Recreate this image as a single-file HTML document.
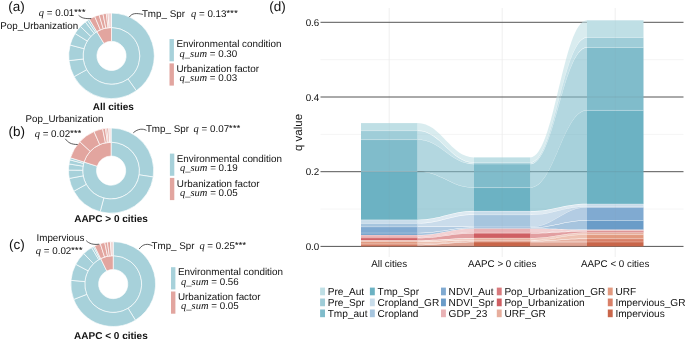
<!DOCTYPE html><html><head><meta charset="utf-8"><style>html,body{margin:0;padding:0;background:#fff;width:685px;height:339px;overflow:hidden;position:relative}</style></head><body><svg width="685" height="339" viewBox="0 0 685 339" style="position:absolute;left:0;top:0;will-change:transform;filter:blur(0.25px)" text-rendering="geometricPrecision">
<rect width="685" height="339" fill="#fff"/>
<path d="M111.50,27.50A28.4,28.4 0 1 1 96.79,31.61L103.94,43.41A14.6,14.6 0 1 0 111.50,41.30Z" fill="#a7d1da" stroke="#fff" stroke-width="0.65"/>
<path d="M96.79,31.61A28.4,28.4 0 0 1 111.50,27.50L111.50,41.30A14.6,14.6 0 0 0 103.94,43.41Z" fill="#e2a59f" stroke="#fff" stroke-width="0.65"/>
<path d="M111.50,13.10A42.8,42.8 0 0 1 136.35,90.74L127.99,79.02A28.4,28.4 0 0 0 111.50,27.50Z" fill="#a7d1da" stroke="#fff" stroke-width="0.65"/>
<path d="M136.35,90.74A42.8,42.8 0 0 1 74.07,76.65L86.66,69.67A28.4,28.4 0 0 0 127.99,79.02Z" fill="#a7d1da" stroke="#fff" stroke-width="0.65"/>
<path d="M74.07,76.65A42.8,42.8 0 0 1 68.96,60.60L83.27,59.02A28.4,28.4 0 0 0 86.66,69.67Z" fill="#a7d1da" stroke="#fff" stroke-width="0.65"/>
<path d="M68.96,60.60A42.8,42.8 0 0 1 70.10,45.04L84.03,48.69A28.4,28.4 0 0 0 83.27,59.02Z" fill="#a7d1da" stroke="#fff" stroke-width="0.65"/>
<path d="M70.10,45.04A42.8,42.8 0 0 1 75.05,33.47L87.31,41.02A28.4,28.4 0 0 0 84.03,48.69Z" fill="#a7d1da" stroke="#fff" stroke-width="0.65"/>
<path d="M75.05,33.47A42.8,42.8 0 0 1 80.40,26.49L90.87,36.39A28.4,28.4 0 0 0 87.31,41.02Z" fill="#a7d1da" stroke="#fff" stroke-width="0.65"/>
<path d="M80.40,26.49A42.8,42.8 0 0 1 85.39,21.99L94.17,33.40A28.4,28.4 0 0 0 90.87,36.39Z" fill="#a7d1da" stroke="#fff" stroke-width="0.65"/>
<path d="M85.39,21.99A42.8,42.8 0 0 1 87.63,20.38L95.66,32.33A28.4,28.4 0 0 0 94.17,33.40Z" fill="#a7d1da" stroke="#fff" stroke-width="0.65"/>
<path d="M87.63,20.38A42.8,42.8 0 0 1 89.33,19.29L96.79,31.61A28.4,28.4 0 0 0 95.66,32.33Z" fill="#a7d1da" stroke="#fff" stroke-width="0.65"/>
<path d="M89.33,19.29A42.8,42.8 0 0 1 94.71,16.53L100.36,29.78A28.4,28.4 0 0 0 96.79,31.61Z" fill="#e2a59f" stroke="#fff" stroke-width="0.65"/>
<path d="M94.71,16.53A42.8,42.8 0 0 1 99.13,14.93L103.29,28.71A28.4,28.4 0 0 0 100.36,29.78Z" fill="#e2a59f" stroke="#fff" stroke-width="0.65"/>
<path d="M99.13,14.93A42.8,42.8 0 0 1 102.97,13.96L105.84,28.07A28.4,28.4 0 0 0 103.29,28.71Z" fill="#e2a59f" stroke="#fff" stroke-width="0.65"/>
<path d="M102.97,13.96A42.8,42.8 0 0 1 106.28,13.42L108.04,27.71A28.4,28.4 0 0 0 105.84,28.07Z" fill="#e2a59f" stroke="#fff" stroke-width="0.65"/>
<path d="M106.28,13.42A42.8,42.8 0 0 1 107.92,13.25L109.12,27.60A28.4,28.4 0 0 0 108.04,27.71Z" fill="#e2a59f" stroke="#fff" stroke-width="0.65"/>
<path d="M107.92,13.25A42.8,42.8 0 0 1 111.50,13.10L111.50,27.50A28.4,28.4 0 0 0 109.12,27.60Z" fill="#f0d6d6" stroke="#fff" stroke-width="0.65"/>
<path d="M111.10,142.20A28.4,28.4 0 1 1 84.01,162.06L97.18,166.21A14.6,14.6 0 1 0 111.10,156.00Z" fill="#a7d1da" stroke="#fff" stroke-width="0.65"/>
<path d="M84.01,162.06A28.4,28.4 0 0 1 111.10,142.20L111.10,156.00A14.6,14.6 0 0 0 97.18,166.21Z" fill="#e2a59f" stroke="#fff" stroke-width="0.65"/>
<path d="M111.10,128.00A42.6,42.6 0 0 1 153.22,176.97L139.18,174.85A28.4,28.4 0 0 0 111.10,142.20Z" fill="#a7d1da" stroke="#fff" stroke-width="0.65"/>
<path d="M153.22,176.97A42.6,42.6 0 0 1 100.15,211.77L103.80,198.05A28.4,28.4 0 0 0 139.18,174.85Z" fill="#a7d1da" stroke="#fff" stroke-width="0.65"/>
<path d="M100.15,211.77A42.6,42.6 0 0 1 73.81,191.19L86.24,184.33A28.4,28.4 0 0 0 103.80,198.05Z" fill="#a7d1da" stroke="#fff" stroke-width="0.65"/>
<path d="M73.81,191.19A42.6,42.6 0 0 1 69.23,178.44L83.18,175.82A28.4,28.4 0 0 0 86.24,184.33Z" fill="#a7d1da" stroke="#fff" stroke-width="0.65"/>
<path d="M69.23,178.44A42.6,42.6 0 0 1 68.50,170.08L82.70,170.25A28.4,28.4 0 0 0 83.18,175.82Z" fill="#a7d1da" stroke="#fff" stroke-width="0.65"/>
<path d="M68.50,170.08A42.6,42.6 0 0 1 69.02,163.94L83.05,166.16A28.4,28.4 0 0 0 82.70,170.25Z" fill="#a7d1da" stroke="#fff" stroke-width="0.65"/>
<path d="M69.02,163.94A42.6,42.6 0 0 1 69.88,159.86L83.62,163.44A28.4,28.4 0 0 0 83.05,166.16Z" fill="#a7d1da" stroke="#fff" stroke-width="0.65"/>
<path d="M69.88,159.86A42.6,42.6 0 0 1 70.47,157.79L84.01,162.06A28.4,28.4 0 0 0 83.62,163.44Z" fill="#a7d1da" stroke="#fff" stroke-width="0.65"/>
<path d="M70.47,157.79A42.6,42.6 0 0 1 79.79,141.71L90.23,151.34A28.4,28.4 0 0 0 84.01,162.06Z" fill="#e2a59f" stroke="#fff" stroke-width="0.65"/>
<path d="M79.79,141.71A42.6,42.6 0 0 1 94.05,131.56L99.73,144.58A28.4,28.4 0 0 0 90.23,151.34Z" fill="#e2a59f" stroke="#fff" stroke-width="0.65"/>
<path d="M94.05,131.56A42.6,42.6 0 0 1 102.61,128.86L105.44,142.77A28.4,28.4 0 0 0 99.73,144.58Z" fill="#e2a59f" stroke="#fff" stroke-width="0.65"/>
<path d="M102.61,128.86A42.6,42.6 0 0 1 105.47,128.37L107.34,142.45A28.4,28.4 0 0 0 105.44,142.77Z" fill="#e2a59f" stroke="#fff" stroke-width="0.65"/>
<path d="M105.47,128.37A42.6,42.6 0 0 1 106.80,128.22L108.23,142.35A28.4,28.4 0 0 0 107.34,142.45Z" fill="#e2a59f" stroke="#fff" stroke-width="0.65"/>
<path d="M106.80,128.22A42.6,42.6 0 0 1 108.72,128.07L109.51,142.24A28.4,28.4 0 0 0 108.23,142.35Z" fill="#e2a59f" stroke="#fff" stroke-width="0.65"/>
<path d="M108.72,128.07A42.6,42.6 0 0 1 111.10,128.00L111.10,142.20A28.4,28.4 0 0 0 109.51,142.24Z" fill="#f4e2e2" stroke="#fff" stroke-width="0.65"/>
<path d="M113.20,255.70A28.4,28.4 0 1 1 100.71,258.60L106.78,270.99A14.6,14.6 0 1 0 113.20,269.50Z" fill="#a7d1da" stroke="#fff" stroke-width="0.65"/>
<path d="M100.71,258.60A28.4,28.4 0 0 1 113.20,255.70L113.20,269.50A14.6,14.6 0 0 0 106.78,270.99Z" fill="#e2a59f" stroke="#fff" stroke-width="0.65"/>
<path d="M113.20,241.70A42.4,42.4 0 0 1 135.42,320.21L128.08,308.29A28.4,28.4 0 0 0 113.20,255.70Z" fill="#a7d1da" stroke="#fff" stroke-width="0.65"/>
<path d="M135.42,320.21A42.4,42.4 0 0 1 73.67,299.43L86.72,294.37A28.4,28.4 0 0 0 128.08,308.29Z" fill="#a7d1da" stroke="#fff" stroke-width="0.65"/>
<path d="M73.67,299.43A42.4,42.4 0 0 1 70.97,280.33L84.91,281.58A28.4,28.4 0 0 0 86.72,294.37Z" fill="#a7d1da" stroke="#fff" stroke-width="0.65"/>
<path d="M70.97,280.33A42.4,42.4 0 0 1 75.73,264.26L88.10,270.81A28.4,28.4 0 0 0 84.91,281.58Z" fill="#a7d1da" stroke="#fff" stroke-width="0.65"/>
<path d="M75.73,264.26A42.4,42.4 0 0 1 83.80,253.55L93.51,263.64A28.4,28.4 0 0 0 88.10,270.81Z" fill="#a7d1da" stroke="#fff" stroke-width="0.65"/>
<path d="M83.80,253.55A42.4,42.4 0 0 1 91.62,247.60L98.74,259.65A28.4,28.4 0 0 0 93.51,263.64Z" fill="#a7d1da" stroke="#fff" stroke-width="0.65"/>
<path d="M91.62,247.60A42.4,42.4 0 0 1 93.36,246.63L99.91,259.00A28.4,28.4 0 0 0 98.74,259.65Z" fill="#a7d1da" stroke="#fff" stroke-width="0.65"/>
<path d="M93.36,246.63A42.4,42.4 0 0 1 94.55,246.02L100.71,258.60A28.4,28.4 0 0 0 99.91,259.00Z" fill="#a7d1da" stroke="#fff" stroke-width="0.65"/>
<path d="M94.55,246.02A42.4,42.4 0 0 1 100.31,243.71L104.57,257.04A28.4,28.4 0 0 0 100.71,258.60Z" fill="#e2a59f" stroke="#fff" stroke-width="0.65"/>
<path d="M100.31,243.71A42.4,42.4 0 0 1 104.75,242.55L107.54,256.27A28.4,28.4 0 0 0 104.57,257.04Z" fill="#e2a59f" stroke="#fff" stroke-width="0.65"/>
<path d="M104.75,242.55A42.4,42.4 0 0 1 107.45,242.09L109.35,255.96A28.4,28.4 0 0 0 107.54,256.27Z" fill="#e2a59f" stroke="#fff" stroke-width="0.65"/>
<path d="M107.45,242.09A42.4,42.4 0 0 1 110.39,241.79L111.32,255.76A28.4,28.4 0 0 0 109.35,255.96Z" fill="#e2a59f" stroke="#fff" stroke-width="0.65"/>
<path d="M110.39,241.79A42.4,42.4 0 0 1 113.20,241.70L113.20,255.70A28.4,28.4 0 0 0 111.32,255.76Z" fill="#f0d6d4" stroke="#fff" stroke-width="0.65"/>
<text x="8.3" y="11.0" font-family='"Liberation Sans", sans-serif' font-size="13.5" font-weight="normal" font-style="normal" text-anchor="start" fill="#111" >(a)</text>
<text x="0.3" y="28.7" font-family='"Liberation Sans", sans-serif' font-size="9.8" font-weight="normal" font-style="normal" text-anchor="start" fill="#111" >Pop_Urbanization</text>
<text x="38.8" y="15.5" font-family='"Liberation Sans", sans-serif' font-size="9.8" fill="#111"><tspan font-family='"Liberation Serif", serif' font-style="italic" font-size="10.5">q</tspan> = 0.01<tspan font-size="8.8" dy="-0.9" letter-spacing="0.4" stroke="#111" stroke-width="0.1">***</tspan></text>
<text x="141.9" y="16.6" font-family='"Liberation Sans", sans-serif' font-size="9.8" font-weight="normal" font-style="normal" text-anchor="start" fill="#111" >Tmp_ Spr</text>
<text x="191" y="16.6" font-family='"Liberation Sans", sans-serif' font-size="9.8" fill="#111"><tspan font-family='"Liberation Serif", serif' font-style="italic" font-size="10.5">q</tspan> = 0.13<tspan font-size="8.8" dy="-0.9" letter-spacing="0.4" stroke="#111" stroke-width="0.1">***</tspan></text>
<text x="113.3" y="109.6" font-family='"Liberation Sans", sans-serif' font-size="10" font-weight="bold" font-style="normal" text-anchor="middle" fill="#111" >All cities</text>
<text x="8.5" y="135.8" font-family='"Liberation Sans", sans-serif' font-size="13.5" font-weight="normal" font-style="normal" text-anchor="start" fill="#111" >(b)</text>
<text x="25.5" y="121.7" font-family='"Liberation Sans", sans-serif' font-size="9.8" font-weight="normal" font-style="normal" text-anchor="start" fill="#111" >Pop_Urbanization</text>
<text x="34.7" y="137.3" font-family='"Liberation Sans", sans-serif' font-size="9.8" fill="#111"><tspan font-family='"Liberation Serif", serif' font-style="italic" font-size="10.5">q</tspan> = 0.02<tspan font-size="8.8" dy="-0.9" letter-spacing="0.4" stroke="#111" stroke-width="0.1">***</tspan></text>
<text x="145.9" y="132.2" font-family='"Liberation Sans", sans-serif' font-size="9.8" font-weight="normal" font-style="normal" text-anchor="start" fill="#111" >Tmp_ Spr</text>
<text x="193.6" y="132.2" font-family='"Liberation Sans", sans-serif' font-size="9.8" fill="#111"><tspan font-family='"Liberation Serif", serif' font-style="italic" font-size="10.5">q</tspan> = 0.07<tspan font-size="8.8" dy="-0.9" letter-spacing="0.4" stroke="#111" stroke-width="0.1">***</tspan></text>
<text x="111.0" y="222.4" font-family='"Liberation Sans", sans-serif' font-size="10" font-weight="bold" font-style="normal" text-anchor="middle" fill="#111" >AAPC &gt; 0 cities</text>
<text x="9.0" y="248.6" font-family='"Liberation Sans", sans-serif' font-size="13.5" font-weight="normal" font-style="normal" text-anchor="start" fill="#111" >(c)</text>
<text x="36.5" y="241.0" font-family='"Liberation Sans", sans-serif' font-size="9.8" font-weight="normal" font-style="normal" text-anchor="start" fill="#111" >Impervious</text>
<text x="35.8" y="253.5" font-family='"Liberation Sans", sans-serif' font-size="9.8" fill="#111"><tspan font-family='"Liberation Serif", serif' font-style="italic" font-size="10.5">q</tspan> = 0.02<tspan font-size="8.8" dy="-0.9" letter-spacing="0.4" stroke="#111" stroke-width="0.1">***</tspan></text>
<text x="151.5" y="249.0" font-family='"Liberation Sans", sans-serif' font-size="9.8" font-weight="normal" font-style="normal" text-anchor="start" fill="#111" >Tmp_ Spr</text>
<text x="199.4" y="248.6" font-family='"Liberation Sans", sans-serif' font-size="9.8" fill="#111"><tspan font-family='"Liberation Serif", serif' font-style="italic" font-size="10.5">q</tspan> = 0.25<tspan font-size="8.8" dy="-0.9" letter-spacing="0.4" stroke="#111" stroke-width="0.1">***</tspan></text>
<text x="110.9" y="338.5" font-family='"Liberation Sans", sans-serif' font-size="10" font-weight="bold" font-style="normal" text-anchor="middle" fill="#111" >AAPC &lt; 0 cities</text>
<path d="M78.6,15.3 C81.5,18 85,19 91.3,18.5" stroke="#333" stroke-width="0.8" fill="none"/>
<path d="M143,14.4 C136,13 132,13 129.2,17.2" stroke="#333" stroke-width="0.8" fill="none"/>
<path d="M65.3,138.8 C68,142.5 71,144.5 77.7,144.5" stroke="#333" stroke-width="0.8" fill="none"/>
<path d="M146.5,130.4 C143,128.5 138,128.5 133.3,132.8" stroke="#333" stroke-width="0.8" fill="none"/>
<path d="M86.2,240.6 C89,243.5 93,245 99.2,244.2" stroke="#333" stroke-width="0.8" fill="none"/>
<path d="M152.5,245.8 C148,243.5 143,243.5 139.2,249" stroke="#333" stroke-width="0.8" fill="none"/>
<rect x="169.5" y="39.1" width="4.4" height="22.2" fill="#a7d1da"/>
<rect x="169.5" y="63.400000000000006" width="4.4" height="22.2" fill="#e2a59f"/>
<text x="176.4" y="47.2" font-family='"Liberation Sans", sans-serif' font-size="9.85" font-weight="normal" font-style="normal" text-anchor="start" fill="#111" >Environmental condition</text>
<text x="179.6" y="56.900000000000006" font-family='"Liberation Sans", sans-serif' font-size="9.8" fill="#111"><tspan font-family='"Liberation Serif", serif' font-style="italic" font-size="10.5">q_sum</tspan> = 0.30</text>
<text x="176.4" y="72.0" font-family='"Liberation Sans", sans-serif' font-size="9.85" font-weight="normal" font-style="normal" text-anchor="start" fill="#111" >Urbanization factor</text>
<text x="179.6" y="81.30000000000001" font-family='"Liberation Sans", sans-serif' font-size="9.8" fill="#111"><tspan font-family='"Liberation Serif", serif' font-style="italic" font-size="10.5">q_sum</tspan> = 0.03</text>
<rect x="169.9" y="153.6" width="4.4" height="22.2" fill="#a7d1da"/>
<rect x="169.9" y="177.9" width="4.4" height="22.2" fill="#e2a59f"/>
<text x="176.8" y="161.7" font-family='"Liberation Sans", sans-serif' font-size="9.85" font-weight="normal" font-style="normal" text-anchor="start" fill="#111" >Environmental condition</text>
<text x="180.0" y="171.4" font-family='"Liberation Sans", sans-serif' font-size="9.8" fill="#111"><tspan font-family='"Liberation Serif", serif' font-style="italic" font-size="10.5">q_sum</tspan> = 0.19</text>
<text x="176.8" y="186.5" font-family='"Liberation Sans", sans-serif' font-size="9.85" font-weight="normal" font-style="normal" text-anchor="start" fill="#111" >Urbanization factor</text>
<text x="180.0" y="195.8" font-family='"Liberation Sans", sans-serif' font-size="9.8" fill="#111"><tspan font-family='"Liberation Serif", serif' font-style="italic" font-size="10.5">q_sum</tspan> = 0.05</text>
<rect x="171" y="267.2" width="4.4" height="22.2" fill="#a7d1da"/>
<rect x="171" y="291.5" width="4.4" height="22.2" fill="#e2a59f"/>
<text x="177.9" y="275.3" font-family='"Liberation Sans", sans-serif' font-size="9.85" font-weight="normal" font-style="normal" text-anchor="start" fill="#111" >Environmental condition</text>
<text x="181.1" y="285.0" font-family='"Liberation Sans", sans-serif' font-size="9.8" fill="#111"><tspan font-family='"Liberation Serif", serif' font-style="italic" font-size="10.5">q_sum</tspan> = 0.56</text>
<text x="177.9" y="300.09999999999997" font-family='"Liberation Sans", sans-serif' font-size="9.85" font-weight="normal" font-style="normal" text-anchor="start" fill="#111" >Urbanization factor</text>
<text x="181.1" y="309.4" font-family='"Liberation Sans", sans-serif' font-size="9.8" fill="#111"><tspan font-family='"Liberation Serif", serif' font-style="italic" font-size="10.5">q_sum</tspan> = 0.05</text>
<text x="269.3" y="11.0" font-family='"Liberation Sans", sans-serif' font-size="13.5" font-weight="normal" font-style="normal" text-anchor="start" fill="#111" >(d)</text>
<line x1="320.5" x2="683.5" y1="209.05" y2="209.05" stroke="#f2f2f2" stroke-width="0.8"/>
<line x1="320.5" x2="683.5" y1="134.35" y2="134.35" stroke="#f2f2f2" stroke-width="0.8"/>
<line x1="320.5" x2="683.5" y1="59.65" y2="59.65" stroke="#f2f2f2" stroke-width="0.8"/>
<line x1="389.2" x2="389.2" y1="8" y2="257" stroke="#ececec" stroke-width="0.8"/>
<line x1="502.2" x2="502.2" y1="8" y2="257" stroke="#ececec" stroke-width="0.8"/>
<line x1="615.2" x2="615.2" y1="8" y2="257" stroke="#ececec" stroke-width="0.8"/>
<line x1="320.5" x2="683.5" y1="246.40" y2="246.40" stroke="#555" stroke-width="1"/>
<text x="319.3" y="250.0" font-family='"Liberation Sans", sans-serif' font-size="9.8" font-weight="normal" font-style="normal" text-anchor="end" fill="#111" >0.0</text>
<line x1="320.5" x2="683.5" y1="171.70" y2="171.70" stroke="#555" stroke-width="1"/>
<text x="319.3" y="175.29999999999998" font-family='"Liberation Sans", sans-serif' font-size="9.8" font-weight="normal" font-style="normal" text-anchor="end" fill="#111" >0.2</text>
<line x1="320.5" x2="683.5" y1="97.00" y2="97.00" stroke="#555" stroke-width="1"/>
<text x="319.3" y="100.6" font-family='"Liberation Sans", sans-serif' font-size="9.8" font-weight="normal" font-style="normal" text-anchor="end" fill="#111" >0.4</text>
<line x1="320.5" x2="683.5" y1="22.30" y2="22.30" stroke="#555" stroke-width="1"/>
<text x="319.3" y="25.900000000000013" font-family='"Liberation Sans", sans-serif' font-size="9.8" font-weight="normal" font-style="normal" text-anchor="end" fill="#111" >0.6</text>
<text x="0" y="0" font-family='"Liberation Sans", sans-serif' font-size="11.5" font-weight="normal" font-style="normal" text-anchor="middle" fill="#111" transform="translate(302.3,132.5) rotate(-90)">q value</text>
<path d="M417.5,123.10 C441.23,123.10 450.27,157.40 474,157.40 L474,162.30 C450.27,162.30 441.23,130.50 417.5,130.50 Z" fill="#bfdfe5" fill-opacity="0.6"/>
<path d="M417.5,130.90 C441.23,130.90 450.27,162.70 474,162.70 L474,163.80 C450.27,163.80 441.23,139.40 417.5,139.40 Z" fill="#9fcdd8" fill-opacity="0.6"/>
<path d="M417.5,139.80 C441.23,139.80 450.27,164.20 474,164.20 L474,187.40 C450.27,187.40 441.23,171.20 417.5,171.20 Z" fill="#80bccb" fill-opacity="0.6"/>
<path d="M417.5,171.60 C441.23,171.60 450.27,187.80 474,187.80 L474,211.10 C450.27,211.10 441.23,219.70 417.5,219.70 Z" fill="#6cb2c3" fill-opacity="0.6"/>
<path d="M417.5,220.10 C441.23,220.10 450.27,211.50 474,211.50 L474,214.60 C450.27,214.60 441.23,223.20 417.5,223.20 Z" fill="#c8dcea" fill-opacity="0.6"/>
<path d="M417.5,223.60 C441.23,223.60 450.27,215.00 474,215.00 L474,226.70 C450.27,226.70 441.23,226.60 417.5,226.60 Z" fill="#a6c5de" fill-opacity="0.6"/>
<path d="M417.5,227.00 C441.23,227.00 450.27,227.10 474,227.10 L474,227.60 C450.27,227.60 441.23,232.90 417.5,232.90 Z" fill="#80aad1" fill-opacity="0.6"/>
<path d="M417.5,233.30 C441.23,233.30 450.27,228.00 474,228.00 L474,228.40 C450.27,228.40 441.23,234.90 417.5,234.90 Z" fill="#6a9cc8" fill-opacity="0.6"/>
<path d="M417.5,235.30 C441.23,235.30 450.27,228.80 474,228.80 L474,232.20 C450.27,232.20 441.23,237.00 417.5,237.00 Z" fill="#e9b2b5" fill-opacity="0.6"/>
<path d="M417.5,237.40 C441.23,237.40 450.27,232.60 474,232.60 L474,233.00 C450.27,233.00 441.23,237.80 417.5,237.80 Z" fill="#d97a7d" fill-opacity="0.6"/>
<path d="M417.5,238.20 C441.23,238.20 450.27,233.40 474,233.40 L474,238.00 C450.27,238.00 441.23,240.20 417.5,240.20 Z" fill="#cf5f63" fill-opacity="0.6"/>
<path d="M417.5,240.60 C441.23,240.60 450.27,238.40 474,238.40 L474,240.10 C450.27,240.10 441.23,241.40 417.5,241.40 Z" fill="#e7ae9d" fill-opacity="0.6"/>
<path d="M417.5,241.80 C441.23,241.80 450.27,240.50 474,240.50 L474,240.90 C450.27,240.90 441.23,243.70 417.5,243.70 Z" fill="#e2997f" fill-opacity="0.6"/>
<path d="M417.5,244.10 C441.23,244.10 450.27,241.30 474,241.30 L474,241.80 C450.27,241.80 441.23,244.80 417.5,244.80 Z" fill="#d98068" fill-opacity="0.6"/>
<path d="M417.5,245.20 C441.23,245.20 450.27,242.20 474,242.20 L474,246.40 C450.27,246.40 441.23,246.40 417.5,246.40 Z" fill="#c9664a" fill-opacity="0.6"/>
<path d="M530.4,157.40 C554.17,157.40 563.23,20.30 587,20.30 L587,37.30 C563.23,37.30 554.17,162.30 530.4,162.30 Z" fill="#bfdfe5" fill-opacity="0.6"/>
<path d="M530.4,162.70 C554.17,162.70 563.23,37.70 587,37.70 L587,47.30 C563.23,47.30 554.17,163.80 530.4,163.80 Z" fill="#9fcdd8" fill-opacity="0.6"/>
<path d="M530.4,164.20 C554.17,164.20 563.23,47.70 587,47.70 L587,110.20 C563.23,110.20 554.17,187.40 530.4,187.40 Z" fill="#80bccb" fill-opacity="0.6"/>
<path d="M530.4,187.80 C554.17,187.80 563.23,110.60 587,110.60 L587,203.80 C563.23,203.80 554.17,211.10 530.4,211.10 Z" fill="#6cb2c3" fill-opacity="0.6"/>
<path d="M530.4,211.50 C554.17,211.50 563.23,204.20 587,204.20 L587,206.40 C563.23,206.40 554.17,214.60 530.4,214.60 Z" fill="#c8dcea" fill-opacity="0.6"/>
<path d="M530.4,215.00 C554.17,215.00 563.23,206.80 587,206.80 L587,207.20 C563.23,207.20 554.17,226.70 530.4,226.70 Z" fill="#a6c5de" fill-opacity="0.6"/>
<path d="M530.4,227.10 C554.17,227.10 563.23,207.60 587,207.60 L587,220.30 C563.23,220.30 554.17,227.60 530.4,227.60 Z" fill="#80aad1" fill-opacity="0.6"/>
<path d="M530.4,228.00 C554.17,228.00 563.23,220.70 587,220.70 L587,229.60 C563.23,229.60 554.17,228.40 530.4,228.40 Z" fill="#6a9cc8" fill-opacity="0.6"/>
<path d="M530.4,228.80 C554.17,228.80 563.23,230.00 587,230.00 L587,230.40 C563.23,230.40 554.17,232.20 530.4,232.20 Z" fill="#e9b2b5" fill-opacity="0.6"/>
<path d="M530.4,232.60 C554.17,232.60 563.23,230.80 587,230.80 L587,231.00 C563.23,231.00 554.17,233.00 530.4,233.00 Z" fill="#d97a7d" fill-opacity="0.6"/>
<path d="M530.4,233.40 C554.17,233.40 563.23,231.40 587,231.40 L587,232.40 C563.23,232.40 554.17,238.00 530.4,238.00 Z" fill="#cf5f63" fill-opacity="0.6"/>
<path d="M530.4,238.40 C554.17,238.40 563.23,232.80 587,232.80 L587,234.40 C563.23,234.40 554.17,240.10 530.4,240.10 Z" fill="#e7ae9d" fill-opacity="0.6"/>
<path d="M530.4,240.50 C554.17,240.50 563.23,234.80 587,234.80 L587,238.50 C563.23,238.50 554.17,240.90 530.4,240.90 Z" fill="#e2997f" fill-opacity="0.6"/>
<path d="M530.4,241.30 C554.17,241.30 563.23,238.90 587,238.90 L587,241.80 C563.23,241.80 554.17,241.80 530.4,241.80 Z" fill="#d98068" fill-opacity="0.6"/>
<path d="M530.4,242.20 C554.17,242.20 563.23,242.20 587,242.20 L587,246.40 C563.23,246.40 554.17,246.40 530.4,246.40 Z" fill="#c9664a" fill-opacity="0.6"/>
<rect x="361" y="123.1" width="56.5" height="7.60" fill="#bfdfe5"/>
<rect x="361" y="130.7" width="56.5" height="8.90" fill="#9fcdd8"/>
<rect x="361" y="139.6" width="56.5" height="31.80" fill="#80bccb"/>
<rect x="361" y="171.4" width="56.5" height="48.50" fill="#6cb2c3"/>
<rect x="361" y="219.9" width="56.5" height="3.50" fill="#c8dcea"/>
<rect x="361" y="223.4" width="56.5" height="3.40" fill="#a6c5de"/>
<rect x="361" y="226.8" width="56.5" height="6.30" fill="#80aad1"/>
<rect x="361" y="233.1" width="56.5" height="2.00" fill="#6a9cc8"/>
<rect x="361" y="235.1" width="56.5" height="2.10" fill="#e9b2b5"/>
<rect x="361" y="237.2" width="56.5" height="0.80" fill="#d97a7d"/>
<rect x="361" y="238.0" width="56.5" height="2.40" fill="#cf5f63"/>
<rect x="361" y="240.4" width="56.5" height="1.20" fill="#e7ae9d"/>
<rect x="361" y="241.6" width="56.5" height="2.30" fill="#e2997f"/>
<rect x="361" y="243.9" width="56.5" height="1.10" fill="#d98068"/>
<rect x="361" y="245.0" width="56.5" height="1.40" fill="#c9664a"/>
<line x1="389.25" x2="389.25" y1="123.1" y2="246.4" stroke="#888" stroke-opacity="0.08" stroke-width="0.8"/>
<line x1="361" x2="417.5" y1="171.70" y2="171.70" stroke="#555" stroke-opacity="0.13" stroke-width="1"/>
<line x1="361" x2="417.5" y1="130.7" y2="130.7" stroke="#fff" stroke-opacity="0.45" stroke-width="0.6"/>
<line x1="361" x2="417.5" y1="139.6" y2="139.6" stroke="#fff" stroke-opacity="0.45" stroke-width="0.6"/>
<line x1="361" x2="417.5" y1="171.4" y2="171.4" stroke="#fff" stroke-opacity="0.45" stroke-width="0.6"/>
<line x1="361" x2="417.5" y1="219.9" y2="219.9" stroke="#fff" stroke-opacity="0.45" stroke-width="0.6"/>
<line x1="361" x2="417.5" y1="223.4" y2="223.4" stroke="#fff" stroke-opacity="0.45" stroke-width="0.6"/>
<line x1="361" x2="417.5" y1="226.8" y2="226.8" stroke="#fff" stroke-opacity="0.45" stroke-width="0.6"/>
<line x1="361" x2="417.5" y1="233.1" y2="233.1" stroke="#fff" stroke-opacity="0.45" stroke-width="0.6"/>
<line x1="361" x2="417.5" y1="235.1" y2="235.1" stroke="#fff" stroke-opacity="0.45" stroke-width="0.6"/>
<line x1="361" x2="417.5" y1="237.2" y2="237.2" stroke="#fff" stroke-opacity="0.45" stroke-width="0.6"/>
<line x1="361" x2="417.5" y1="238.0" y2="238.0" stroke="#fff" stroke-opacity="0.45" stroke-width="0.6"/>
<line x1="361" x2="417.5" y1="240.4" y2="240.4" stroke="#fff" stroke-opacity="0.45" stroke-width="0.6"/>
<line x1="361" x2="417.5" y1="241.6" y2="241.6" stroke="#fff" stroke-opacity="0.45" stroke-width="0.6"/>
<line x1="361" x2="417.5" y1="243.9" y2="243.9" stroke="#fff" stroke-opacity="0.45" stroke-width="0.6"/>
<line x1="361" x2="417.5" y1="245.0" y2="245.0" stroke="#fff" stroke-opacity="0.45" stroke-width="0.6"/>
<rect x="474" y="157.4" width="56.39999999999998" height="5.10" fill="#bfdfe5"/>
<rect x="474" y="162.5" width="56.39999999999998" height="1.50" fill="#9fcdd8"/>
<rect x="474" y="164.0" width="56.39999999999998" height="23.60" fill="#80bccb"/>
<rect x="474" y="187.6" width="56.39999999999998" height="23.70" fill="#6cb2c3"/>
<rect x="474" y="211.3" width="56.39999999999998" height="3.50" fill="#c8dcea"/>
<rect x="474" y="214.8" width="56.39999999999998" height="12.10" fill="#a6c5de"/>
<rect x="474" y="226.9" width="56.39999999999998" height="0.90" fill="#80aad1"/>
<rect x="474" y="227.8" width="56.39999999999998" height="0.80" fill="#6a9cc8"/>
<rect x="474" y="228.6" width="56.39999999999998" height="3.80" fill="#e9b2b5"/>
<rect x="474" y="232.4" width="56.39999999999998" height="0.80" fill="#d97a7d"/>
<rect x="474" y="233.2" width="56.39999999999998" height="5.00" fill="#cf5f63"/>
<rect x="474" y="238.2" width="56.39999999999998" height="2.10" fill="#e7ae9d"/>
<rect x="474" y="240.3" width="56.39999999999998" height="0.80" fill="#e2997f"/>
<rect x="474" y="241.1" width="56.39999999999998" height="0.90" fill="#d98068"/>
<rect x="474" y="242.0" width="56.39999999999998" height="4.40" fill="#c9664a"/>
<line x1="502.20" x2="502.20" y1="157.4" y2="246.4" stroke="#888" stroke-opacity="0.08" stroke-width="0.8"/>
<line x1="474" x2="530.4" y1="171.70" y2="171.70" stroke="#555" stroke-opacity="0.13" stroke-width="1"/>
<line x1="474" x2="530.4" y1="162.5" y2="162.5" stroke="#fff" stroke-opacity="0.45" stroke-width="0.6"/>
<line x1="474" x2="530.4" y1="164.0" y2="164.0" stroke="#fff" stroke-opacity="0.45" stroke-width="0.6"/>
<line x1="474" x2="530.4" y1="187.6" y2="187.6" stroke="#fff" stroke-opacity="0.45" stroke-width="0.6"/>
<line x1="474" x2="530.4" y1="211.3" y2="211.3" stroke="#fff" stroke-opacity="0.45" stroke-width="0.6"/>
<line x1="474" x2="530.4" y1="214.8" y2="214.8" stroke="#fff" stroke-opacity="0.45" stroke-width="0.6"/>
<line x1="474" x2="530.4" y1="226.9" y2="226.9" stroke="#fff" stroke-opacity="0.45" stroke-width="0.6"/>
<line x1="474" x2="530.4" y1="227.8" y2="227.8" stroke="#fff" stroke-opacity="0.45" stroke-width="0.6"/>
<line x1="474" x2="530.4" y1="228.6" y2="228.6" stroke="#fff" stroke-opacity="0.45" stroke-width="0.6"/>
<line x1="474" x2="530.4" y1="232.4" y2="232.4" stroke="#fff" stroke-opacity="0.45" stroke-width="0.6"/>
<line x1="474" x2="530.4" y1="233.2" y2="233.2" stroke="#fff" stroke-opacity="0.45" stroke-width="0.6"/>
<line x1="474" x2="530.4" y1="238.2" y2="238.2" stroke="#fff" stroke-opacity="0.45" stroke-width="0.6"/>
<line x1="474" x2="530.4" y1="240.3" y2="240.3" stroke="#fff" stroke-opacity="0.45" stroke-width="0.6"/>
<line x1="474" x2="530.4" y1="241.1" y2="241.1" stroke="#fff" stroke-opacity="0.45" stroke-width="0.6"/>
<line x1="474" x2="530.4" y1="242.0" y2="242.0" stroke="#fff" stroke-opacity="0.45" stroke-width="0.6"/>
<rect x="587" y="20.3" width="56.5" height="17.20" fill="#bfdfe5"/>
<rect x="587" y="37.5" width="56.5" height="10.00" fill="#9fcdd8"/>
<rect x="587" y="47.5" width="56.5" height="62.90" fill="#80bccb"/>
<rect x="587" y="110.4" width="56.5" height="93.60" fill="#6cb2c3"/>
<rect x="587" y="204.0" width="56.5" height="2.60" fill="#c8dcea"/>
<rect x="587" y="206.6" width="56.5" height="0.80" fill="#a6c5de"/>
<rect x="587" y="207.4" width="56.5" height="13.10" fill="#80aad1"/>
<rect x="587" y="220.5" width="56.5" height="9.30" fill="#6a9cc8"/>
<rect x="587" y="229.8" width="56.5" height="0.80" fill="#e9b2b5"/>
<rect x="587" y="230.6" width="56.5" height="0.60" fill="#d97a7d"/>
<rect x="587" y="231.2" width="56.5" height="1.40" fill="#cf5f63"/>
<rect x="587" y="232.6" width="56.5" height="2.00" fill="#e7ae9d"/>
<rect x="587" y="234.6" width="56.5" height="4.10" fill="#e2997f"/>
<rect x="587" y="238.7" width="56.5" height="3.30" fill="#d98068"/>
<rect x="587" y="242.0" width="56.5" height="4.40" fill="#c9664a"/>
<line x1="615.25" x2="615.25" y1="20.3" y2="246.4" stroke="#888" stroke-opacity="0.08" stroke-width="0.8"/>
<line x1="587" x2="643.5" y1="171.70" y2="171.70" stroke="#555" stroke-opacity="0.13" stroke-width="1"/>
<line x1="587" x2="643.5" y1="97.00" y2="97.00" stroke="#555" stroke-opacity="0.13" stroke-width="1"/>
<line x1="587" x2="643.5" y1="37.5" y2="37.5" stroke="#fff" stroke-opacity="0.45" stroke-width="0.6"/>
<line x1="587" x2="643.5" y1="47.5" y2="47.5" stroke="#fff" stroke-opacity="0.45" stroke-width="0.6"/>
<line x1="587" x2="643.5" y1="110.4" y2="110.4" stroke="#fff" stroke-opacity="0.45" stroke-width="0.6"/>
<line x1="587" x2="643.5" y1="204.0" y2="204.0" stroke="#fff" stroke-opacity="0.45" stroke-width="0.6"/>
<line x1="587" x2="643.5" y1="206.6" y2="206.6" stroke="#fff" stroke-opacity="0.45" stroke-width="0.6"/>
<line x1="587" x2="643.5" y1="207.4" y2="207.4" stroke="#fff" stroke-opacity="0.45" stroke-width="0.6"/>
<line x1="587" x2="643.5" y1="220.5" y2="220.5" stroke="#fff" stroke-opacity="0.45" stroke-width="0.6"/>
<line x1="587" x2="643.5" y1="229.8" y2="229.8" stroke="#fff" stroke-opacity="0.45" stroke-width="0.6"/>
<line x1="587" x2="643.5" y1="230.6" y2="230.6" stroke="#fff" stroke-opacity="0.45" stroke-width="0.6"/>
<line x1="587" x2="643.5" y1="231.2" y2="231.2" stroke="#fff" stroke-opacity="0.45" stroke-width="0.6"/>
<line x1="587" x2="643.5" y1="232.6" y2="232.6" stroke="#fff" stroke-opacity="0.45" stroke-width="0.6"/>
<line x1="587" x2="643.5" y1="234.6" y2="234.6" stroke="#fff" stroke-opacity="0.45" stroke-width="0.6"/>
<line x1="587" x2="643.5" y1="238.7" y2="238.7" stroke="#fff" stroke-opacity="0.45" stroke-width="0.6"/>
<line x1="587" x2="643.5" y1="242.0" y2="242.0" stroke="#fff" stroke-opacity="0.45" stroke-width="0.6"/>
<text x="389.2" y="266.8" font-family='"Liberation Sans", sans-serif' font-size="9.8" font-weight="normal" font-style="normal" text-anchor="middle" fill="#111" >All cities</text>
<text x="502.2" y="266.8" font-family='"Liberation Sans", sans-serif' font-size="9.8" font-weight="normal" font-style="normal" text-anchor="middle" fill="#111" >AAPC &gt; 0 cities</text>
<text x="615.2" y="266.8" font-family='"Liberation Sans", sans-serif' font-size="9.8" font-weight="normal" font-style="normal" text-anchor="middle" fill="#111" >AAPC &lt; 0 cities</text>
<rect x="320.1" y="287.6" width="4.9" height="7.7" fill="#bfdfe5"/>
<text x="327.70000000000005" y="294.90000000000003" font-family='"Liberation Sans", sans-serif' font-size="10.1" font-weight="normal" font-style="normal" text-anchor="start" fill="#111" >Pre_Aut</text>
<rect x="320.1" y="298.55" width="4.9" height="7.7" fill="#9fcdd8"/>
<text x="327.70000000000005" y="305.85" font-family='"Liberation Sans", sans-serif' font-size="10.1" font-weight="normal" font-style="normal" text-anchor="start" fill="#111" >Pre_Spr</text>
<rect x="320.1" y="309.5" width="4.9" height="7.7" fill="#80bccb"/>
<text x="327.70000000000005" y="316.8" font-family='"Liberation Sans", sans-serif' font-size="10.1" font-weight="normal" font-style="normal" text-anchor="start" fill="#111" >Tmp_aut</text>
<rect x="369.9" y="287.6" width="4.9" height="7.7" fill="#6cb2c3"/>
<text x="377.5" y="294.90000000000003" font-family='"Liberation Sans", sans-serif' font-size="10.1" font-weight="normal" font-style="normal" text-anchor="start" fill="#111" >Tmp_Spr</text>
<rect x="369.9" y="298.55" width="4.9" height="7.7" fill="#c8dcea"/>
<text x="377.5" y="305.85" font-family='"Liberation Sans", sans-serif' font-size="10.1" font-weight="normal" font-style="normal" text-anchor="start" fill="#111" >Cropland_GR</text>
<rect x="369.9" y="309.5" width="4.9" height="7.7" fill="#a6c5de"/>
<text x="377.5" y="316.8" font-family='"Liberation Sans", sans-serif' font-size="10.1" font-weight="normal" font-style="normal" text-anchor="start" fill="#111" >Cropland</text>
<rect x="441" y="287.6" width="4.9" height="7.7" fill="#80aad1"/>
<text x="448.6" y="294.90000000000003" font-family='"Liberation Sans", sans-serif' font-size="10.1" font-weight="normal" font-style="normal" text-anchor="start" fill="#111" >NDVI_Aut</text>
<rect x="441" y="298.55" width="4.9" height="7.7" fill="#6a9cc8"/>
<text x="448.6" y="305.85" font-family='"Liberation Sans", sans-serif' font-size="10.1" font-weight="normal" font-style="normal" text-anchor="start" fill="#111" >NDVI_Spr</text>
<rect x="441" y="309.5" width="4.9" height="7.7" fill="#e9b2b5"/>
<text x="448.6" y="316.8" font-family='"Liberation Sans", sans-serif' font-size="10.1" font-weight="normal" font-style="normal" text-anchor="start" fill="#111" >GDP_23</text>
<rect x="496.8" y="287.6" width="4.9" height="7.7" fill="#d97a7d"/>
<text x="504.40000000000003" y="294.90000000000003" font-family='"Liberation Sans", sans-serif' font-size="10.1" font-weight="normal" font-style="normal" text-anchor="start" fill="#111" >Pop_Urbanization_GR</text>
<rect x="496.8" y="298.55" width="4.9" height="7.7" fill="#cf5f63"/>
<text x="504.40000000000003" y="305.85" font-family='"Liberation Sans", sans-serif' font-size="10.1" font-weight="normal" font-style="normal" text-anchor="start" fill="#111" >Pop_Urbanization</text>
<rect x="496.8" y="309.5" width="4.9" height="7.7" fill="#e7ae9d"/>
<text x="504.40000000000003" y="316.8" font-family='"Liberation Sans", sans-serif' font-size="10.1" font-weight="normal" font-style="normal" text-anchor="start" fill="#111" >URF_GR</text>
<rect x="607.8" y="287.6" width="4.9" height="7.7" fill="#e2997f"/>
<text x="615.4" y="294.90000000000003" font-family='"Liberation Sans", sans-serif' font-size="10.1" font-weight="normal" font-style="normal" text-anchor="start" fill="#111" >URF</text>
<rect x="607.8" y="298.55" width="4.9" height="7.7" fill="#d98068"/>
<text x="615.4" y="305.85" font-family='"Liberation Sans", sans-serif' font-size="10.1" font-weight="normal" font-style="normal" text-anchor="start" fill="#111" >Impervious_GR</text>
<rect x="607.8" y="309.5" width="4.9" height="7.7" fill="#c9664a"/>
<text x="615.4" y="316.8" font-family='"Liberation Sans", sans-serif' font-size="10.1" font-weight="normal" font-style="normal" text-anchor="start" fill="#111" >Impervious</text>
</svg></body></html>
